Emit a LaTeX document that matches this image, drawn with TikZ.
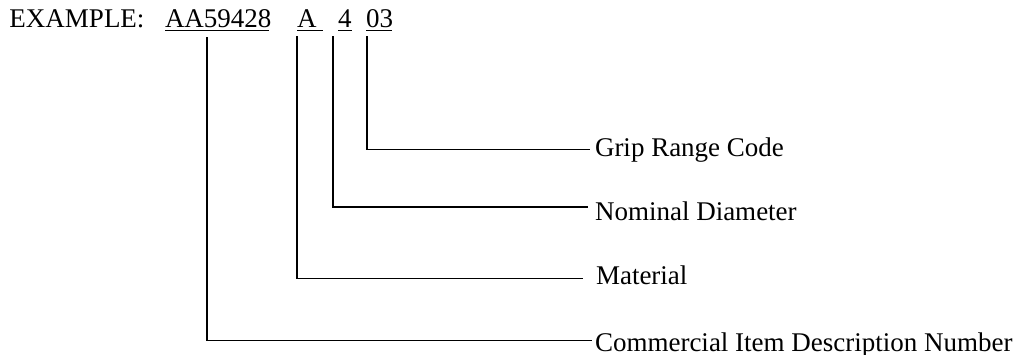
\documentclass[tikz,border=0pt]{standalone}
\usepackage{fontspec}
\setmainfont{Liberation Serif}
\begin{document}
\begin{tikzpicture}[x=0.5pt,y=-0.5pt,
  txt/.style={inner sep=0pt,outer sep=0pt,anchor=base west,font=\fontsize{13.5pt}{16pt}\selectfont},
  conn/.style={line width=0.9pt,line join=miter},
  uline/.style={line width=0.8pt}]
\useasboundingbox (0,0) rectangle (1016,354);
% header
\node[txt] (ex) at (9.5,27.5) {EXAMPLE:};
\node[txt] (cid) at (165,27.5) {AA59428};
\node[txt] (mat) at (297,27.5) {A};
\node[txt] (dia) at (338,27.5) {4};
\node[txt] (grc) at (366,27.5) {03};
% underlines
\draw[uline] ([yshift=-1.4pt]cid.base west) -- ++(104,0);
\draw[uline] ([yshift=-1.4pt]mat.base west) -- ++(26,0);
\draw[uline] ([yshift=-1.4pt]dia.base west) -- ++(13.5,0);
\draw[uline] ([yshift=-1.4pt]grc.base west) -- ++(26,0);
% labels
\node[txt] (lgrc) at (595,156) {Grip Range Code};
\node[txt] (ldia) at (595,220) {Nominal Diameter};
\node[txt] (lmat) at (596,284.5) {Material};
\node[txt] (lcid) at (595,351) {Commercial Item Description Number};
% connector points
\coordinate (grctop) at (367,36);
\coordinate (diatop) at (333,36);
\coordinate (mattop) at (297,36);
\coordinate (cidtop) at (207,37);
\coordinate (grcend) at (590,149.5);
\coordinate (diaend) at (588,207);
\coordinate (matend) at (583,278.5);
\coordinate (cidend) at (592,340.5);
% connectors
\draw[conn] (grctop) |- (grcend);
\draw[conn] (diatop) |- (diaend);
\draw[conn] (mattop) |- (matend);
\draw[conn] (cidtop) |- (cidend);
\end{tikzpicture}
\end{document}
